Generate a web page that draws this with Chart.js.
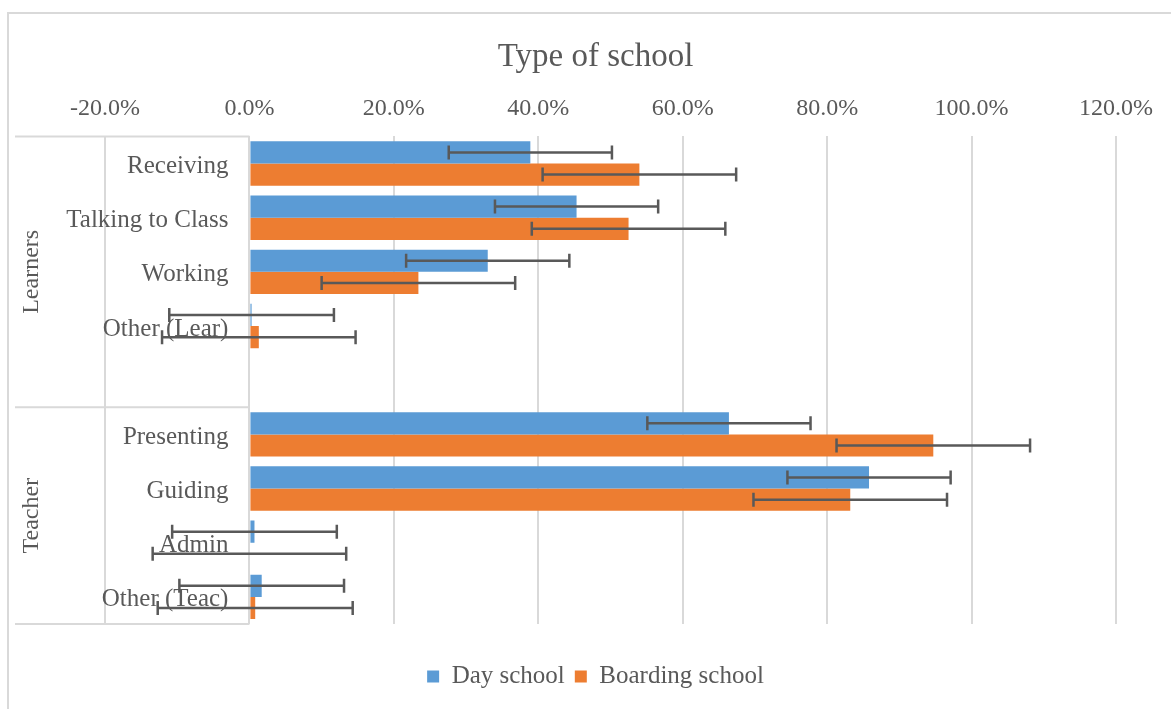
<!DOCTYPE html>
<html>
<head>
<meta charset="utf-8">
<script src="https://cdn.jsdelivr.net/npm/chart.js@4.4.0/dist/chart.umd.min.js"></script>
<style>
html, body { margin: 0; padding: 0; background: #fff; overflow: hidden; }
#frame { position: absolute; left: 7px; top: 12px; width: 1300px; height: 800px; border-left: 2px solid #d9d9d9; border-top: 2px solid #d9d9d9; }
#wrap { position: absolute; left: 0; top: 0; width: 1171px; height: 709px; }
</style>
</head>
<body>
<div id="frame"></div>
<div id="wrap"><canvas id="barChart" width="1171" height="709"></canvas></div>
<script>
// categories (the empty one is the gap row closing the Learners group)
var categories = ["Receiving", "Talking to Class", "Working", "Other (Lear)", "", "Presenting", "Guiding", "Admin", "Other (Teac)"];
var dayValues = [38.9, 45.3, 33.0, 0.3, null, 66.4, 85.8, 0.7, 1.7];
var boardingValues = [54.0, 52.5, 23.4, 1.3, null, 94.7, 83.2, 0.0, 0.8];
var dayErrors = [11.3, 11.3, 11.3, 11.4, null, 11.3, 11.3, 11.4, 11.4];
var boardingErrors = [13.4, 13.4, 13.4, 13.4, null, 13.4, 13.4, 13.4, 13.5];
var groupNames = ["Learners", "Teacher"];
var groupEnds = [4, 8];
var xTicks = [-20, 0, 20, 40, 60, 80, 100, 120];

var textColor = "#595959";
var serif = "Liberation Serif";

var decor = {
  id: 'decor',
  beforeDatasetsDraw: function(chart) {
    var ctx = chart.ctx, x = chart.scales.x, y = chart.scales.y, area = chart.chartArea;
    var zeroX = x.getPixelForValue(0);
    ctx.save();
    // multi-level category axis lines
    var edges = [area.top];
    groupEnds.forEach(function(e, i) {
      if (i < groupEnds.length - 1) edges.push((y.getPixelForValue(e) + y.getPixelForValue(e + 1)) / 2);
      else edges.push(area.bottom);
    });
    ctx.strokeStyle = "#d9d9d9";
    ctx.lineWidth = 2;
    edges.forEach(function(ey) {
      ctx.beginPath();
      ctx.moveTo(area.left - 90, ey);
      ctx.lineTo(zeroX, ey);
      ctx.stroke();
    });
    ctx.fillStyle = textColor;
    ctx.font = '25px "' + serif + '"';
    ctx.textAlign = 'right';
    ctx.textBaseline = 'middle';
    categories.forEach(function(c, i) {
      if (c) ctx.fillText(c, zeroX - 21, y.getPixelForValue(i) + 3);
    });
    ctx.font = '24px "' + serif + '"';
    ctx.textAlign = 'center';
    groupNames.forEach(function(g, i) {
      var cy = (edges[i] + edges[i + 1]) / 2;
      ctx.save();
      ctx.translate(area.left - 73, cy);
      ctx.rotate(-Math.PI / 2);
      ctx.fillText(g, 0, 0);
      ctx.restore();
    });
    ctx.restore();
  },
  afterDatasetsDraw: function(chart) {
    var ctx = chart.ctx, x = chart.scales.x;
    ctx.save();
    ctx.strokeStyle = "#595959";
    ctx.lineWidth = 2.5;
    chart.data.datasets.forEach(function(ds, di) {
      var meta = chart.getDatasetMeta(di);
      meta.data.forEach(function(bar, i) {
        var v = ds.data[i], e = ds.errors[i];
        if (v == null || e == null) return;
        var x1 = x.getPixelForValue(v - e), x2 = x.getPixelForValue(v + e), by = bar.y;
        ctx.beginPath();
        ctx.moveTo(x1, by); ctx.lineTo(x2, by);
        ctx.moveTo(x1, by - 7); ctx.lineTo(x1, by + 7);
        ctx.moveTo(x2, by - 7); ctx.lineTo(x2, by + 7);
        ctx.stroke();
      });
    });
    ctx.restore();
  }
};

var ctx = document.getElementById("barChart");
var myBarChart = new Chart(ctx, {
  type: 'bar',
  data: {
    labels: categories,
    datasets: [
      { label: "Day school", data: dayValues, errors: dayErrors, backgroundColor: "#5B9BD5", categoryPercentage: 0.82, barPercentage: 1.0 },
      { label: "Boarding school", data: boardingValues, errors: boardingErrors, backgroundColor: "#ED7D31", categoryPercentage: 0.82, barPercentage: 1.0 }
    ]
  },
  options: {
    indexAxis: 'y',
    responsive: false,
    animation: false,
    layout: { padding: { left: 75, right: 55, top: 0, bottom: 10 } },
    plugins: {
      title: {
        display: true, text: "Type of school", color: textColor,
        font: { family: serif, size: 33, weight: 'normal' },
        padding: { top: 38, bottom: 4 }
      },
      legend: {
        position: 'bottom',
        labels: { boxWidth: 12, boxHeight: 12, color: textColor, font: { family: serif, size: 25 } }
      },
      tooltip: { enabled: false }
    },
    scales: {
      x: {
        position: 'top', min: xTicks[0], max: xTicks[xTicks.length - 1],
        ticks: { stepSize: 20, color: textColor, font: { family: serif, size: 24 }, padding: 13,
          callback: function(v) { return v.toFixed(1) + "%"; } },
        grid: { color: "#d9d9d9", lineWidth: 2, drawTicks: false },
        border: { display: false }
      },
      x2: {
        type: 'linear', position: 'bottom', display: true,
        grid: { display: false }, ticks: { display: false }, border: { display: false },
        afterFit: function(s) { s.height = 30; }
      },
      y: {
        grid: { display: false }, ticks: { display: false }, border: { display: false },
        afterFit: function(s) { s.width = 30; }
      }
    }
  },
  plugins: [decor]
});
</script>
</body>
</html>
